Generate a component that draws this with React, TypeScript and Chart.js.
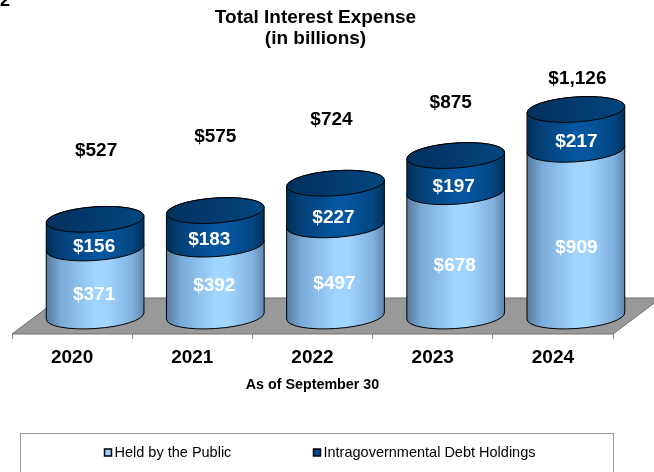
import React, { useEffect, useRef } from "react";
import { Chart, registerables } from "chart.js";

Chart.register(...registerables);

const years = ["2020", "2021", "2022", "2023", "2024"];
const heldByPublic = [371, 392, 497, 678, 909];
const intragovernmental = [156, 183, 227, 197, 217];
const chartTitle = ["Total Interest Expense", "(in billions)"];
const axisTitle = "As of September 30";

// Layout constants (3-D look of the original)
const FONT = "'Liberation Sans', Arial, sans-serif";
const DEPTH = { x: 48, y: 36 };
const BAR_SHIFT = { x: 23, y: -18 };
const TILT = (-4 * Math.PI) / 180;
const RY = 12.5;
const TOTAL_GAP = [69, 74, 63.5, 52.5, 30.5];
const TOTAL_DX = [1, 0, -4, -5, 1.5];
const SEG_LABEL_DY = [
  [13, 6, 13.5, 12, 15],
  [13, 12, 13.5, 13, 12],
];
const SEG_LABEL_DX = [
  [-1, -1, -1, -1, 0.5],
  [-1, -6, -2, -2, 0.5],
];

function sidePath(ctx: CanvasRenderingContext2D, cx: number, top: number, base: number, a: number) {
  const t0 = Math.atan2(-RY * Math.sin(TILT), a * Math.cos(TILT));
  ctx.beginPath();
  ctx.ellipse(cx, base, a, RY, TILT, t0, t0 + Math.PI, false);
  ctx.ellipse(cx, top, a, RY, TILT, t0 + Math.PI, t0 + 2 * Math.PI, false);
  ctx.closePath();
}

const cylinderPlugin = {
  id: "cylinder",
  afterLayout(chart: any) {
    if (chart.titleBlock) {
      chart.titleBlock.left += 3;
      chart.titleBlock.right += 3;
    }
  },
  beforeDraw(chart: any) {
    const { ctx, chartArea: ca } = chart;
    ctx.save();
    ctx.fillStyle = "#000";
    ctx.font = `bold 18px ${FONT}`;
    ctx.textAlign = "left";
    ctx.textBaseline = "alphabetic";
    ctx.fillText("2", 0, 6);
    ctx.beginPath();
    ctx.moveTo(ca.left, ca.bottom);
    ctx.lineTo(ca.right, ca.bottom);
    ctx.lineTo(ca.right + DEPTH.x, ca.bottom - DEPTH.y);
    ctx.lineTo(ca.left + DEPTH.x, ca.bottom - DEPTH.y);
    ctx.closePath();
    ctx.fillStyle = "#999999";
    ctx.fill();
    ctx.strokeStyle = "#6f6f6f";
    ctx.lineWidth = 1;
    ctx.stroke();
    ctx.restore();
  },
  beforeDatasetDraw() {
    return false;
  },
  afterDatasetsDraw(chart: any) {
    const { ctx } = chart;
    const stops = [
      [[0, "#55799d"], [0.15, "#7aaad6"], [0.5, "#a1d5ff"], [0.62, "#a1d5ff"], [0.88, "#82b2de"], [1, "#5f86ac"]],
      [[0, "#023058"], [0.15, "#034079"], [0.5, "#05569f"], [0.62, "#05569f"], [0.88, "#034682"], [1, "#023058"]],
    ];
    ctx.save();
    ctx.translate(BAR_SHIFT.x, BAR_SHIFT.y);
    ctx.lineWidth = 1;
    ctx.strokeStyle = "#000";
    chart.data.datasets.forEach((_: any, d: number) => {
      chart.getDatasetMeta(d).data.forEach((el: any) => {
        const a = el.width / 2;
        const g = ctx.createLinearGradient(el.x - a, 0, el.x + a, 0);
        stops[d].forEach((s: any) => g.addColorStop(s[0], s[1]));
        ctx.fillStyle = g;
        sidePath(ctx, el.x, el.y, el.base, a);
        ctx.fill();
        ctx.stroke();
        if (d === chart.data.datasets.length - 1) {
          const c = ctx.createLinearGradient(el.x - a, 0, el.x + a, 0);
          c.addColorStop(0, "#03305c");
          c.addColorStop(1, "#024680");
          ctx.fillStyle = c;
          ctx.beginPath();
          ctx.ellipse(el.x, el.y, a, RY, TILT, 0, Math.PI * 2);
          ctx.fill();
          ctx.stroke();
        }
      });
    });
    ctx.restore();
  },
  afterDraw(chart: any) {
    const { ctx, chartArea: ca } = chart;
    ctx.save();
    ctx.textAlign = "center";
    ctx.textBaseline = "middle";
    ctx.font = `bold 19px ${FONT}`;
    const top = chart.getDatasetMeta(chart.data.datasets.length - 1).data;
    chart.data.datasets.forEach((ds: any, d: number) => {
      chart.getDatasetMeta(d).data.forEach((el: any, i: number) => {
        ctx.fillStyle = "#fff";
        ctx.fillText(
          "$" + ds.data[i],
          el.x + BAR_SHIFT.x + SEG_LABEL_DX[d][i],
          (el.y + el.base) / 2 + BAR_SHIFT.y + SEG_LABEL_DY[d][i]
        );
      });
    });
    ctx.fillStyle = "#000";
    top.forEach((el: any, i: number) => {
      const total = heldByPublic[i] + intragovernmental[i];
      ctx.fillText(
        "$" + total.toLocaleString("en-US"),
        el.x + BAR_SHIFT.x + TOTAL_DX[i],
        el.y + BAR_SHIFT.y - TOTAL_GAP[i]
      );
    });

    // Legend frame and entries
    const boxLeft = 20.5;
    const boxRight = ca.right + 0.5;
    const boxTop = 433.5;
    ctx.strokeStyle = "#9a9a9a";
    ctx.lineWidth = 1;
    ctx.strokeRect(boxLeft, boxTop, boxRight - boxLeft, 60);
    ctx.font = `14.5px ${FONT}`;
    ctx.textAlign = "left";
    const entryX = [104, 313];
    chart.data.datasets.forEach((ds: any, d: number) => {
      ctx.fillStyle = ds.backgroundColor;
      ctx.strokeStyle = "#000";
      ctx.lineWidth = 1.5;
      ctx.fillRect(entryX[d] + 0.5, 449, 7, 7);
      ctx.strokeRect(entryX[d] + 0.5, 449, 7, 7);
      ctx.fillStyle = "#000";
      ctx.fillText(ds.label, entryX[d] + 10.5, 453);
    });
    ctx.restore();
  },
};

export default function App() {
  const ref = useRef<HTMLCanvasElement>(null);
  useEffect(() => {
    document.body.style.margin = "0";
    const chart = new Chart(ref.current as HTMLCanvasElement, {
      type: "bar",
      data: {
        labels: years,
        datasets: [
          { label: "Held by the Public", data: heldByPublic, backgroundColor: "#99CCFF", stack: "s" },
          { label: "Intragovernmental Debt Holdings", data: intragovernmental, backgroundColor: "#004A8D", stack: "s" },
        ],
      },
      options: {
        responsive: false,
        animation: false,
        events: [],
        layout: { padding: { left: 12, right: 41, top: 0, bottom: 78 } },
        datasets: { bar: { barPercentage: 0.815, categoryPercentage: 1 } },
        plugins: {
          legend: { display: false },
          tooltip: { enabled: false },
          title: {
            display: true,
            text: chartTitle,
            color: "#000",
            font: { family: FONT, size: 19, weight: "bold", lineHeight: 1.07 },
            padding: { top: 8, bottom: 2 },
          },
        },
        scales: {
          x: {
            stacked: true,
            offset: true,
            grid: { drawOnChartArea: false, tickLength: 5, color: "#8a8a8a" },
            border: { display: false },
            ticks: { color: "#000", font: { family: FONT, size: 19, weight: "bold" }, padding: 7, maxRotation: 0 },
            title: {
              display: true,
              text: axisTitle,
              color: "#000",
              font: { family: FONT, size: 14.3, weight: "bold" },
              padding: { top: 5, bottom: 0 },
            },
            afterFit: (s: any) => {
              s.height = 60;
            },
          },
          y: { display: false, stacked: true, min: 0, max: 1545 },
        },
      },
      plugins: [cylinderPlugin],
    } as any);
    return () => chart.destroy();
  }, []);
  return <canvas ref={ref} width={654} height={472} style={{ display: "block", width: 654, height: 472 }} />;
}
